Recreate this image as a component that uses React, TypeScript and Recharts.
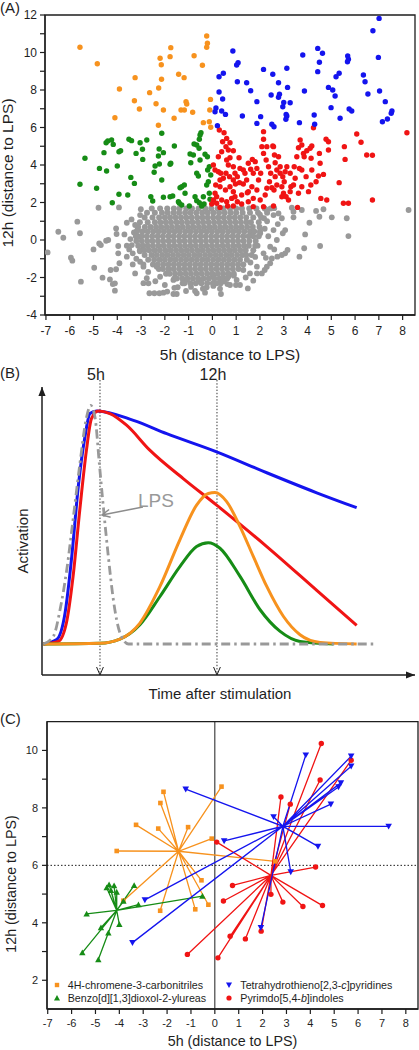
import React from "react";
import {
  Label,
  Line,
  LineChart,
  ReferenceArea,
  ReferenceLine,
  Scatter,
  ScatterChart,
  XAxis,
  YAxis,
} from "recharts";

const FONT = "'Liberation Sans', Arial, Helvetica, sans-serif";
const INK = "#1e1e1e";
const ORANGE = "#f7921e";
const BLUE = "#1414ee";
const RED = "#f01414";
const GREEN = "#168c16";
const GRAY = "#999999";

// ---------- panel A: 5h vs 12h distance to LPS ----------
const aXTicks = [-7, -6, -5, -4, -3, -2, -1, 0, 1, 2, 3, 4, 5, 6, 7, 8];
const aYTicks = [-4, -3, -2, -1, 0, 1, 2, 3, 4, 5, 6, 7, 8, 9, 10, 11, 12];

const orangeA = [
  [-5.57, 10.28], [-4.84, 9.4], [-3.25, 8.66], [-3.91, 8.05], [-4.1, 6.52], [-3.28, 7.43],
  [-3.07, 6.99], [-2.64, 7.86], [-2.37, 7.27], [-2.26, 8.11], [-2.2, 9.69], [-2.15, 9.35],
  [-2.14, 8.57], [-2.06, 6.93], [-2.27, 6.12], [-1.78, 9.78], [-1.75, 10.26], [-1.61, 6.49],
  [-1.42, 8.84], [-1.32, 6.93], [-1.19, 8.66], [-1.11, 7.38], [-1.08, 7.25], [-1.18, 6.93],
  [-0.83, 6.81], [-0.77, 9.83], [-0.42, 9.32], [-0.38, 6.26], [-0.24, 10.88], [-0.21, 10.49],
  [-0.24, 10.28], [-0.08, 7.5], [-0.11, 6.93], [-0.13, 6.31], [-0.07, 6.01],
];

const blueA = [
  [0.86, 10.08], [1.02, 9.33], [1.08, 9.46], [1.05, 8.44], [1.44, 8.39], [1.61, 7.96],
  [0.28, 8.71], [0.46, 8.89], [0.28, 7.89], [0.43, 7.52], [0.15, 7.04], [0.11, 6.84],
  [0.39, 6.88], [0.55, 6.7], [0.21, 6.1], [1.26, 6.61], [2.15, 9.1], [1.87, 7.38],
  [2.03, 6.58], [1.87, 6.22], [2.54, 8.84], [2.78, 8.39], [2.82, 7.77], [2.47, 7.73],
  [2.78, 7.61], [2.5, 6.17], [2.59, 6.04], [3.13, 9.16], [3.16, 8.14], [3.0, 7.34],
  [2.96, 7.11], [3.27, 7.32], [3.1, 6.7], [3.13, 6.61], [3.09, 6.44], [3.8, 9.87],
  [3.87, 7.95], [3.66, 6.26], [4.28, 6.67], [4.3, 6.17], [4.43, 10.22], [4.43, 8.98],
  [4.5, 9.48], [4.63, 9.96], [4.88, 8.14], [5.06, 8.0], [4.99, 7.06], [5.16, 7.68],
  [5.2, 8.71], [5.33, 8.89], [5.37, 6.49], [5.69, 9.81], [5.72, 9.64], [5.68, 9.51],
  [5.75, 6.99], [5.86, 6.88], [6.35, 8.8], [6.42, 8.44], [6.54, 7.79], [6.75, 11.16],
  [7.01, 11.82], [6.98, 9.74], [7.03, 7.95], [7.15, 6.31], [7.27, 7.38], [7.36, 6.45],
  [7.52, 6.76], [7.55, 6.88],
];

const greenA = [
  [-5.57, 2.97], [-5.36, 4.36], [-4.87, 2.76], [-4.75, 3.82], [-4.56, 4.66], [-4.47, 5.19],
  [-4.4, 5.28], [-4.45, 3.68], [-4.24, 5.33], [-4.21, 1.99], [-4.17, 5.1], [-4.0, 3.95],
  [-3.93, 4.71], [-3.86, 4.76], [-3.93, 2.44], [-3.56, 2.4], [-3.51, 5.37], [-3.4, 5.3],
  [-3.43, 3.34], [-3.28, 3.02], [-3.21, 4.62], [-3.04, 5.19], [-2.94, 4.84], [-2.93, 4.3],
  [-2.76, 5.33], [-2.59, 2.31], [-2.51, 2.08], [-2.45, 3.61], [-2.41, 3.95], [-2.27, 4.48],
  [-2.24, 4.85], [-2.23, 4.05], [-2.13, 3.2], [-2.06, 4.66], [-2.13, 5.69], [-2.06, 2.28],
  [-1.78, 2.31], [-1.78, 4.04], [-1.75, 4.09], [-1.6, 5.01], [-1.67, 2.35], [-1.43, 2.04],
  [-1.36, 2.79], [-1.29, 2.84], [-1.18, 2.93], [-1.39, 1.96], [-1.29, 1.87], [-1.15, 2.49],
  [-0.97, 1.81], [-0.91, 4.12], [-0.94, 4.59], [-0.8, 4.53], [-0.77, 5.12], [-0.66, 5.07],
  [-0.55, 5.37], [-0.52, 5.6], [-0.48, 5.72], [-0.56, 4.89], [-0.52, 4.27], [-0.66, 3.56],
  [-0.59, 3.41], [-0.73, 2.31], [-0.66, 2.1], [-0.55, 1.99], [-0.38, 2.31], [-0.35, 1.92],
  [-0.45, 1.81], [-0.31, 4.57], [-0.21, 4.44], [-0.24, 2.93], [-0.17, 3.11], [-0.13, 2.49],
  [-0.1, 2.17], [-0.2, 3.73], [-0.13, 3.91], [-0.07, 3.47],
];

const redA = [
  [0.29, 5.87], [0.49, 5.72], [0.6, 5.42], [0.43, 5.24], [0.74, 5.19], [0.57, 4.98],
  [0.67, 4.8], [0.74, 4.39], [1.12, 4.39], [0.6, 4.27], [0.67, 4.0], [0.04, 4.0],
  [0.11, 3.73], [0.25, 3.64], [0.35, 3.56], [0.46, 3.29], [0.57, 3.56], [0.72, 3.38],
  [0.88, 3.2], [0.97, 2.99], [1.14, 3.06], [1.3, 2.99], [1.37, 3.56], [1.16, 3.82],
  [1.51, 4.09], [1.68, 4.3], [1.8, 4.18], [1.61, 3.77], [1.87, 3.82], [1.72, 3.56],
  [1.94, 3.2], [1.66, 2.84], [1.47, 2.52], [1.23, 2.4], [0.88, 2.58], [0.74, 2.84],
  [0.55, 2.67], [0.32, 2.84], [0.11, 2.49], [0.04, 2.13], [0.18, 1.96], [0.39, 2.13],
  [0.6, 2.04], [0.81, 2.22], [1.05, 2.04], [1.23, 1.92], [1.51, 2.04], [1.72, 2.22],
  [2.01, 2.13], [2.15, 1.78], [2.22, 2.4], [2.29, 2.76], [2.4, 3.11], [2.5, 2.79],
  [2.59, 2.67], [2.71, 2.93], [2.64, 3.38], [2.45, 3.56], [2.36, 3.91], [2.26, 4.27],
  [2.15, 4.62], [2.08, 4.98], [2.15, 5.37], [2.15, 5.78], [2.54, 5.01], [2.57, 4.98],
  [2.61, 4.53], [2.64, 4.12], [2.71, 3.73], [2.85, 3.56], [2.96, 3.38], [3.06, 3.64],
  [3.02, 3.11], [2.92, 2.84], [2.99, 2.49], [2.92, 2.31], [3.1, 2.31], [3.2, 2.13],
  [3.27, 2.58], [3.3, 2.84], [3.48, 3.29], [3.44, 3.91], [3.55, 4.44], [3.62, 4.92],
  [3.76, 5.07], [3.69, 5.33], [3.66, 3.82], [3.76, 3.73], [3.86, 4.44], [3.83, 4.62],
  [3.97, 4.76], [3.94, 3.38], [3.76, 2.84], [3.62, 2.49], [3.58, 1.74], [4.04, 2.58],
  [4.14, 2.93], [4.18, 3.73], [4.15, 4.36], [4.11, 4.89], [4.18, 5.01], [4.25, 5.99],
  [4.36, 3.11], [4.46, 3.41], [4.5, 4.62], [4.53, 4.09], [4.56, 2.22], [4.67, 3.5],
  [4.78, 5.37], [4.88, 5.24], [4.88, 4.8], [4.81, 2.13], [5.33, 3.06], [5.51, 1.96],
  [5.72, 1.96], [5.55, 4.98], [5.58, 4.3], [6.07, 5.65], [6.25, 5.21], [6.49, 4.53],
  [6.73, 4.52], [6.73, 2.13], [8.18, 5.72], [-0.03, 1.92], [0.88, 1.81], [1.72, 1.78],
  [2.57, 1.81], [1.3, 3.73], [0.88, 3.91], [0.95, 3.56], [1.05, 3.38], [0.32, 3.2],
  [0.14, 2.93], [1.44, 3.2], [1.87, 2.67], [2.03, 3.56], [2.29, 4.98], [2.78, 4.44],
  [3.27, 3.56], [3.41, 2.93], [3.13, 3.91], [2.85, 3.91], [0.39, 4.71], [0.88, 4.76],
  [0.25, 4.44], [1.51, 2.58], [0.95, 2.31], [0.64, 1.81], [0.32, 1.74], [0.18, 2.31],
];

// sparse grey points around the central cloud
const grayOutA = [
  [-6.93, -0.66], [-6.48, 0.44], [-6.27, 0.12], [-5.95, -0.94], [-5.89, -1.1], [-5.68, 0.98],
  [-5.57, 0.36], [-5.53, -2.22], [-5.0, -0.5], [-4.97, -1.48], [-4.79, 1.72], [-4.76, -0.18],
  [-4.69, -0.27], [-4.62, -2.01], [-4.47, -0.04], [-4.38, 0.0], [-4.31, -2.1], [-4.28, -1.6],
  [-4.19, -2.35], [-4.1, -2.7], [-4.1, -2.31], [-4.05, 0.62], [-4.03, 0.32], [-3.93, 1.74],
  [-3.96, -0.71], [-3.96, -0.32], [-4.05, -1.56], [-3.91, -1.24], [-3.6, 0.92], [-3.6, -0.3],
  [-3.6, -0.89], [-3.39, -0.27], [-3.35, -0.71], [-3.25, -1.78], [-3.16, 0.53], [-3.07, 0.18],
  [-3.04, 1.33], [-3.25, 0.8], [-3.01, 1.64], [-3.04, -1.16], [-2.9, -1.42], [-2.76, -2.04],
  [-2.69, -2.31], [-2.65, -2.84], [-2.44, -2.84], [-2.23, -2.84], [-2.06, -2.81], [-1.64, -2.88],
  [-1.5, -2.88], [-1.46, -2.52], [-1.11, -2.72], [-0.73, -2.72], [-0.66, -2.84], [-0.31, -2.81],
  [-0.24, -2.52], [0.04, -2.45], [0.32, -2.6], [0.36, -2.88], [0.63, -2.35], [0.74, -2.4],
  [0.99, -2.4], [1.16, -2.4], [1.49, -2.58], [1.72, -2.17], [1.87, -1.78], [2.08, -1.78],
  [2.29, -1.42], [2.43, -1.24], [2.5, -0.98], [2.73, -0.89], [2.92, -0.8], [3.06, -0.71],
  [3.16, -0.53], [2.96, 0.36], [3.06, 0.53], [2.92, 1.16], [2.78, 1.42], [2.57, 1.33],
  [2.29, 1.6], [2.17, 1.16], [2.57, 0.53], [2.71, 0.0], [2.43, -0.36], [3.41, 1.21],
  [3.66, -0.89], [3.76, 1.6], [3.9, 0.3], [3.86, -0.44], [4.08, 0.92], [4.36, 1.55],
  [4.5, 1.24], [4.53, -0.32], [4.67, 1.64], [5.02, 1.21], [5.65, 1.16], [5.72, 0.21],
  [8.25, 1.6], [3.41, 1.51], [3.34, 1.72], [2.01, 0.36], [2.15, -0.71], [1.87, -1.42],
  [1.58, -1.78], [1.02, -2.13], [0.67, -1.96], [0.04, -1.96], [-0.52, -2.22], [-1.08, -2.13],
  [-1.64, -2.13], [-2.2, -1.96], [-2.34, -1.42], [-3.3, 0.4], [-3.05, -0.6], [-3.2, -1.0],
  [-2.9, -1.3], [-2.7, -1.7], [-2.4, -2.2], [-2.0, -2.4], [-1.6, -2.55], [-0.9, -2.5],
  [-0.4, -2.6], [0.5, -2.2], [0.9, -1.9], [1.3, -1.6], [1.6, -1.2], [1.8, -0.9],
  [1.9, -0.3], [2.2, 0.6], [2.3, 1.0], [2.0, 1.35], [2.6, 1.7], [-3.4, 1.1],
  [-3.5, -0.5], [-3.7, 0.3], [2.6, -0.5], [2.2, -1.6], [1.4, -2.0], [-1.9, -2.75],
  [-2.9, -2.3], [-3.45, 0.05], [-3.35, -1.3], [2.35, 0.2], [2.25, -0.95], [2.75, 0.85],
];

// dense grey core, read row by row: [y, x values]
const grayCoreRows: [number, number[]][] = [
  [1.68, [-2.55, -2.2, -1.9, -1.62, -1.38, -1.1, -0.86, -0.58, -0.3, -0.05, 0.22, 0.47, 0.74, 1.0, 1.24, 1.55, 1.85, 2.2, 2.45]],
  [1.45, [-2.75, -2.42, -2.12, -1.88, -1.63, -1.4, -1.15, -0.92, -0.68, -0.43, -0.2, 0.04, 0.28, 0.52, 0.77, 1.0, 1.27, 1.58, 1.92, 2.3]],
  [1.2, [-2.85, -2.52, -2.24, -2.0, -1.78, -1.55, -1.32, -1.1, -0.87, -0.64, -0.42, -0.2, 0.03, 0.25, 0.48, 0.71, 0.94, 1.17, 1.42, 1.72, 2.05]],
  [0.95, [-3.05, -2.72, -2.42, -2.19, -1.96, -1.74, -1.51, -1.29, -1.06, -0.84, -0.61, -0.39, -0.16, 0.07, 0.29, 0.52, 0.74, 0.97, 1.2, 1.43, 1.62, 1.95]],
  [0.7, [-3.12, -2.84, -2.6, -2.37, -2.15, -1.92, -1.7, -1.47, -1.25, -1.02, -0.8, -0.57, -0.35, -0.12, 0.1, 0.33, 0.55, 0.78, 1.0, 1.23, 1.46, 1.7, 1.98]],
  [0.45, [-3.18, -2.95, -2.72, -2.49, -2.27, -2.04, -1.82, -1.59, -1.37, -1.14, -0.92, -0.69, -0.47, -0.24, -0.02, 0.21, 0.43, 0.66, 0.88, 1.11, 1.34, 1.58, 1.76, 2.0]],
  [0.2, [-3.22, -2.98, -2.76, -2.53, -2.3, -2.08, -1.85, -1.63, -1.4, -1.18, -0.95, -0.73, -0.5, -0.28, -0.05, 0.17, 0.4, 0.62, 0.85, 1.07, 1.3, 1.52, 1.72, 1.95]],
  [-0.05, [-3.2, -2.97, -2.74, -2.52, -2.29, -2.07, -1.84, -1.62, -1.39, -1.17, -0.94, -0.72, -0.49, -0.27, -0.04, 0.18, 0.41, 0.63, 0.86, 1.08, 1.31, 1.55, 1.82]],
  [-0.3, [-3.12, -2.92, -2.72, -2.5, -2.27, -2.05, -1.82, -1.6, -1.37, -1.15, -0.92, -0.7, -0.47, -0.25, -0.02, 0.2, 0.43, 0.65, 0.88, 1.1, 1.33, 1.53, 1.8]],
  [-0.55, [-3.05, -2.86, -2.66, -2.43, -2.21, -1.98, -1.76, -1.53, -1.31, -1.08, -0.86, -0.63, -0.41, -0.18, 0.04, 0.27, 0.49, 0.72, 0.94, 1.17, 1.4, 1.72]],
  [-0.8, [-2.85, -2.56, -2.34, -2.11, -1.89, -1.66, -1.44, -1.21, -0.99, -0.76, -0.54, -0.31, -0.09, 0.14, 0.36, 0.59, 0.81, 1.04, 1.27, 1.42, 1.65]],
  [-1.05, [-2.7, -2.45, -2.22, -2.0, -1.77, -1.55, -1.32, -1.1, -0.87, -0.65, -0.42, -0.2, 0.03, 0.25, 0.48, 0.7, 0.93, 1.16, 1.45]],
  [-1.3, [-2.5, -2.3, -2.07, -1.85, -1.62, -1.4, -1.17, -0.95, -0.72, -0.5, -0.27, -0.05, 0.18, 0.4, 0.63, 0.85, 1.08, 1.3]],
  [-1.55, [-2.25, -2.08, -1.85, -1.63, -1.4, -1.18, -0.95, -0.73, -0.5, -0.28, -0.05, 0.17, 0.4, 0.62, 0.86, 1.1]],
  [-1.8, [-1.95, -1.8, -1.57, -1.35, -1.12, -0.9, -0.67, -0.45, -0.22, 0.0, 0.23, 0.45, 0.68, 0.9]],
  [-2.05, [-1.6, -1.5, -1.27, -1.05, -0.82, -0.6, -0.37, -0.15, 0.08, 0.3, 0.47, 0.62]],
  [-2.3, [-1.25, -1.18, -0.93, -0.7, -0.46, -0.22, 0.02, 0.18, 0.35]],
];

// ---------- panel B: schematic activation curves ([time, activation]) ----------
const lpsCurve = [
  [1.61, 0], [2.21, 0.033], [2.61, 0.147], [3.01, 0.318], [3.41, 0.546], [3.8, 0.775],
  [4.16, 0.96], [4.44, 1.024], [4.7, 0.974], [4.96, 0.775], [5.2, 0.589], [5.5, 0.375],
  [5.8, 0.19], [6.2, 0.047], [6.7, 0], [21.46, 0],
];
const blueCurve = [
  [1.61, 0], [2.41, 0.019], [2.91, 0.133], [3.31, 0.375], [3.7, 0.675], [4.1, 0.889],
  [4.4, 0.989], [4.8, 1.0], [7.0, 0.96], [8.99, 0.903], [11.98, 0.825], [14.98, 0.735],
  [17.97, 0.649], [20.36, 0.585],
];
const redCurve = [
  [1.61, 0], [2.51, 0.011], [2.99, 0.09], [3.39, 0.29], [3.79, 0.575], [4.19, 0.832],
  [4.49, 0.967], [4.89, 1.0], [5.59, 0.989], [6.59, 0.939], [7.98, 0.832], [9.98, 0.71],
  [11.98, 0.596], [14.98, 0.418], [17.97, 0.23], [20.36, 0.08],
];
const orangeCurve = [
  [1.61, 0], [4.99, 0.003], [6.19, 0.021], [7.39, 0.09], [8.59, 0.247], [9.78, 0.447],
  [10.78, 0.596], [11.48, 0.646], [11.88, 0.65], [12.58, 0.611], [13.38, 0.504], [14.18, 0.375],
  [14.98, 0.247], [15.98, 0.118], [16.97, 0.04], [18.17, 0.007], [20.36, 0],
];
const greenCurve = [
  [1.61, 0], [4.99, 0.003], [6.19, 0.021], [7.39, 0.083], [8.59, 0.204], [9.78, 0.332],
  [10.78, 0.418], [11.48, 0.435], [12.18, 0.411], [13.38, 0.29], [14.58, 0.147], [15.78, 0.054],
  [16.97, 0.011], [18.97, 0],
];
const bMarks = [
  { t: 5, label: "5h" },
  { t: 12, label: "12h" },
];
const lpsArrow = [[7.57, 0.588], [5.12, 0.554]];

// ---------- panel C: compound classes, centre -> member ----------
const cXTicks = aXTicks;
const cYTicks = [2, 3, 4, 5, 6, 7, 8, 9, 10];

const chromeneCentre = [-1.52, 6.49];
const chromene = [
  [0.28, 8.74], [-2.15, 8.56], [-2.28, 8.17], [-3.3, 7.41], [-2.37, 7.28], [-1.12, 7.33],
  [-0.13, 6.93], [-4.11, 6.5], [2.53, 6.14], [-0.56, 5.48], [-3.83, 4.77], [-2.29, 4.42],
  [-0.82, 4.47], [-0.27, 4.63],
];
const ureaCentre = [-4.11, 4.43];
const urea = [
  [-4.53, 5.22], [-4.43, 5.33], [-4.22, 5.29], [-4.35, 5.13], [-4.11, 5.07], [-3.38, 5.3],
  [-3.83, 4.75], [-3.2, 4.63], [-0.52, 4.93], [-5.37, 4.31], [-4.77, 3.83], [-4.46, 3.65],
  [-4.0, 3.94], [-5.55, 2.96], [-4.88, 2.72],
];
const thienoCentre = [2.85, 7.36];
const thieno = [
  [3.81, 9.84], [5.71, 9.8], [5.71, 9.45], [5.28, 8.87], [5.18, 8.73], [4.86, 8.13],
  [2.46, 7.69], [7.28, 7.36], [4.32, 6.66], [0.39, 6.85], [-1.22, 8.65], [3.18, 5.77],
  [1.93, 3.83], [-2.93, 4.8], [-3.45, 3.31],
];
const indoleCentre = [2.35, 5.65];
const indole = [
  [4.46, 10.24], [5.71, 9.66], [4.41, 8.97], [2.77, 8.38], [3.16, 8.13], [0.08, 6.81],
  [4.22, 5.94], [0.74, 5.3], [0.36, 4.76], [2.35, 4.99], [2.85, 4.72], [3.69, 4.57],
  [4.51, 4.6], [0.64, 3.53], [1.28, 3.44], [1.94, 3.71], [-1.15, 2.9], [0.13, 2.78],
];
const cNames = [
  "4H-chromene-3-carbonitriles",
  "Benzo[d][1,3]dioxol-2-ylureas",
  "Tetrahydrothieno[2,3-c]pyridines",
  "Pyrimdo[5,4-b]indoles",
];

type P = { x: number; y: number };
const pts = (a: number[][]): P[] => a.map(([x, y]) => ({ x, y }));
const grayCore: P[] = grayCoreRows.flatMap(([y, xs]) => xs.map((x) => ({ x, y })));
const curve = (a: number[][]) => a.map(([t, v]) => ({ t, v }));
const star = (c: number[], a: number[][]): P[] =>
  a.flatMap(([x, y]) => [{ x: c[0], y: c[1] }, { x, y }]);

const dot = (fill: string, r = 2.7) => (p: any) => <circle cx={p.cx} cy={p.cy} r={r} fill={fill} />;
const square = (fill: string, s = 4.6) => (p: any) => (
  <rect x={p.cx - s / 2} y={p.cy - s / 2} width={s} height={s} fill={fill} />
);
const triUp = (fill: string, h = 3.2) => (p: any) => (
  <polygon points={`${p.cx},${p.cy - h} ${p.cx + h},${p.cy + h * 0.8} ${p.cx - h},${p.cy + h * 0.8}`} fill={fill} />
);
const triDown = (fill: string, h = 3.3) => (p: any) => (
  <polygon points={`${p.cx - h},${p.cy - h * 0.8} ${p.cx + h},${p.cy - h * 0.8} ${p.cx},${p.cy + h}`} fill={fill} />
);
const none = () => <g />;

const tickStyle = (size: number) => ({ fontSize: size, fill: INK, fontFamily: FONT });
const evenOnly = (v: number) => (v % 2 === 0 ? String(v) : "");

function head(x1: number, y1: number, x2: number, y2: number, len: number, half: number) {
  const a = Math.atan2(y2 - y1, x2 - x1);
  const bx = x2 - len * Math.cos(a);
  const by = y2 - len * Math.sin(a);
  const nx = -Math.sin(a) * half;
  const ny = Math.cos(a) * half;
  return `${bx + nx},${by + ny} ${x2},${y2} ${bx - nx},${by - ny}`;
}

const axisArrow = (p: any) => (
  <g>
    <line x1={p.x1} y1={p.y1} x2={p.x2} y2={p.y2} stroke={INK} strokeWidth={1.5} />
    <polygon points={head(p.x1, p.y1, p.x2, p.y2, 9, 3.6)} fill={INK} />
  </g>
);

const dropLine = (label: string) => (p: any) => (
  <g>
    <line x1={p.x1} y1={p.y1} x2={p.x2} y2={p.y2} stroke={INK} strokeWidth={0.9} strokeDasharray="1.4 1.8" />
    <polyline points={head(p.x1, p.y1, p.x2, p.y2, 8, 3.4)} fill="none" stroke={INK} strokeWidth={1} />
    <text x={p.x1 - 4} y={p.y1 - 0.5} textAnchor="middle" fontSize={16} fontFamily={FONT} fill={INK}>
      {label}
    </text>
  </g>
);

const lpsPointer = (p: any) => (
  <g>
    <line x1={p.x1} y1={p.y1} x2={p.x2} y2={p.y2} stroke="#8c8c8c" strokeWidth={1.5} />
    <polyline points={head(p.x1, p.y1, p.x2, p.y2, 8, 4)} fill="none" stroke="#8c8c8c" strokeWidth={1.5} />
    <text x={p.x1 - 5} y={p.y1} fontSize={19} fontFamily={FONT} fill={GRAY}>
      LPS
    </text>
  </g>
);

function PanelA() {
  const X0 = -7.04, X1 = 8.52;
  return (
    <ScatterChart width={419} height={365} margin={{ top: 15, right: 4, bottom: 0, left: 0 }}>
      <XAxis
        type="number"
        dataKey="x"
        domain={[X0, X1]}
        ticks={aXTicks}
        interval={0}
        allowDataOverflow
        height={50}
        tickSize={5}
        tickMargin={6}
        tick={tickStyle(12)}
        axisLine={{ stroke: INK, strokeWidth: 1.3 }}
        tickLine={{ stroke: INK, strokeWidth: 1.2 }}
      >
        <Label value="5h (distance to LPS)" position="insideBottom" offset={5} fontSize={15.5} fill={INK} fontFamily={FONT} />
      </XAxis>
      <YAxis
        type="number"
        dataKey="y"
        domain={[-4, 12]}
        ticks={aYTicks}
        interval={0}
        allowDataOverflow
        width={45}
        tickSize={5}
        tickMargin={3}
        tickFormatter={evenOnly}
        tick={tickStyle(12)}
        axisLine={{ stroke: INK, strokeWidth: 1.3 }}
        tickLine={{ stroke: INK, strokeWidth: 1.2 }}
      />
      <ReferenceArea x1={X0} x2={X1} y1={-4} y2={12} fill="none" stroke={INK} strokeWidth={1.3} ifOverflow="visible" />
      <Scatter data={pts(grayOutA)} shape={dot(GRAY, 2.9)} isAnimationActive={false} />
      <Scatter data={grayCore} shape={dot(GRAY, 3)} isAnimationActive={false} />
      <Scatter data={pts(orangeA)} shape={dot(ORANGE)} isAnimationActive={false} />
      <Scatter data={pts(greenA)} shape={dot(GREEN)} isAnimationActive={false} />
      <Scatter data={pts(redA)} shape={dot(RED)} isAnimationActive={false} />
      <Scatter data={pts(blueA)} shape={dot(BLUE)} isAnimationActive={false} />
    </ScatterChart>
  );
}

function PanelB() {
  const T0 = 1.53, T1 = 23.85, V0 = -0.133, V1 = 1.103;
  const curveProps = { type: "monotone" as const, dataKey: "v", dot: false, isAnimationActive: false };
  return (
    <LineChart width={419} height={345} margin={{ top: 27, right: 4, bottom: 30, left: 42 }}>
      <XAxis type="number" dataKey="t" domain={[T0, T1]} hide allowDataOverflow />
      <YAxis type="number" domain={[V0, V1]} hide allowDataOverflow />
      <ReferenceLine segment={[{ x: T0, y: V0 }, { x: T1, y: V0 }]} shape={axisArrow} ifOverflow="visible" />
      <ReferenceLine segment={[{ x: T0, y: V0 }, { x: T0, y: V1 }]} shape={axisArrow} ifOverflow="visible" />
      {bMarks.map((m) => (
        <ReferenceLine
          key={m.label}
          segment={[{ x: m.t, y: 1.133 }, { x: m.t, y: V0 }]}
          shape={dropLine(m.label)}
          ifOverflow="visible"
        />
      ))}
      <Line {...curveProps} data={curve(blueCurve)} stroke={BLUE} strokeWidth={3} />
      <Line {...curveProps} data={curve(redCurve)} stroke={RED} strokeWidth={3} />
      <Line {...curveProps} data={curve(greenCurve)} stroke={GREEN} strokeWidth={3} />
      <Line {...curveProps} data={curve(orangeCurve)} stroke={ORANGE} strokeWidth={3} />
      <Line
        {...curveProps}
        data={curve(lpsCurve)}
        stroke={GRAY}
        strokeWidth={2.8}
        strokeDasharray="9 4 2.5 4"
      />
      <ReferenceLine
        segment={[{ x: lpsArrow[0][0], y: lpsArrow[0][1] }, { x: lpsArrow[1][0], y: lpsArrow[1][1] }]}
        shape={lpsPointer}
        ifOverflow="visible"
      />
    </LineChart>
  );
}

const groupsC = [
  { centre: chromeneCentre, members: chromene, color: ORANGE, mark: square },
  { centre: ureaCentre, members: urea, color: GREEN, mark: triUp },
  { centre: indoleCentre, members: indole, color: RED, mark: dot },
  { centre: thienoCentre, members: thieno, color: BLUE, mark: triDown },
];

function PanelC() {
  const X0 = -7.03, X1 = 8.51;
  return (
    <ScatterChart width={419} height={350} margin={{ top: 21.7, right: 1, bottom: 0, left: 0 }}>
      <XAxis
        type="number"
        dataKey="x"
        domain={[X0, X1]}
        ticks={cXTicks}
        interval={0}
        allowDataOverflow
        height={41}
        tickSize={5}
        tickMargin={5}
        tick={tickStyle(11)}
        axisLine={{ stroke: INK, strokeWidth: 1.3 }}
        tickLine={{ stroke: INK, strokeWidth: 1.2 }}
      >
        <Label value="5h (distance to LPS)" position="insideBottom" offset={4} fontSize={14.3} fill={INK} fontFamily={FONT} />
      </XAxis>
      <YAxis
        type="number"
        dataKey="y"
        domain={[1, 11]}
        ticks={cYTicks}
        interval={0}
        allowDataOverflow
        width={47}
        tickSize={5}
        tickMargin={4}
        tickFormatter={evenOnly}
        tick={tickStyle(11)}
        axisLine={{ stroke: INK, strokeWidth: 1.3 }}
        tickLine={{ stroke: INK, strokeWidth: 1.2 }}
      />
      <ReferenceArea x1={X0} x2={X1} y1={1} y2={11} fill="none" stroke={INK} strokeWidth={1.3} ifOverflow="visible" />
      <ReferenceLine x={0} stroke={INK} strokeWidth={1} />
      <ReferenceLine y={6} stroke={INK} strokeWidth={1} strokeDasharray="1.5 2" />
      {groupsC.map((g, i) => (
        <Scatter
          key={`l${i}`}
          data={star(g.centre, g.members)}
          line={{ stroke: g.color, strokeWidth: 1.3 }}
          shape={none}
          isAnimationActive={false}
        />
      ))}
      {groupsC.map((g, i) => (
        <Scatter key={`m${i}`} data={pts(g.members)} shape={g.mark(g.color)} isAnimationActive={false} />
      ))}
    </ScatterChart>
  );
}

function Name({ text }: { text: string }) {
  const m = text.match(/^(.*-)([a-z])(\].*)$/);
  if (!m) return <>{text}</>;
  return (
    <>
      {m[1]}
      <i>{m[2]}</i>
      {m[3]}
    </>
  );
}

const legendC = [
  { name: cNames[0], color: ORANGE, kind: "square", x: 56.7, y: 985 },
  { name: cNames[1], color: GREEN, kind: "up", x: 56.7, y: 998.3 },
  { name: cNames[2], color: BLUE, kind: "down", x: 229.3, y: 985 },
  { name: cNames[3], color: RED, kind: "circle", x: 229.3, y: 998.3 },
];

function LegendMark({ kind, color }: { kind: string; color: string }) {
  return (
    <svg width={10} height={10} viewBox="-5 -5 10 10" style={{ display: "block" }}>
      {kind === "square" && <rect x={-2.2} y={-2.2} width={4.4} height={4.4} fill={color} />}
      {kind === "up" && <polygon points="0,-3 3,2.4 -3,2.4" fill={color} />}
      {kind === "down" && <polygon points="-3,-2.4 3,-2.4 0,3" fill={color} />}
      {kind === "circle" && <circle r={2.6} fill={color} />}
    </svg>
  );
}

export default function App() {
  return (
    <div style={{ position: "absolute", left: 0, top: 0, width: 419, height: 1050, background: "#fff", fontFamily: FONT }}>
      <div style={{ position: "absolute", left: 0, top: 0 }}>
        <PanelA />
      </div>
      <div style={{ position: "absolute", left: 0, top: 360 }}>
        <PanelB />
      </div>
      <div style={{ position: "absolute", left: 0, top: 700 }}>
        <PanelC />
      </div>
      {legendC.map((l) => (
        <div
          key={l.name}
          style={{
            position: "absolute",
            left: l.x - 5,
            top: l.y - 7,
            height: 14,
            display: "flex",
            alignItems: "center",
            fontSize: 10.7,
            color: INK,
            whiteSpace: "nowrap",
          }}
        >
          <LegendMark kind={l.kind} color={l.color} />
          <span style={{ marginLeft: 6 }}>
            <Name text={l.name} />
          </span>
        </div>
      ))}
      <svg
        width={419}
        height={1050}
        style={{ position: "absolute", left: 0, top: 0, pointerEvents: "none" }}
        fontFamily={FONT}
        fill={INK}
      >
        <text x={0} y={13} fontSize={15}>(A)</text>
        <text x={0} y={378} fontSize={15}>(B)</text>
        <text x={0} y={724} fontSize={15}>(C)</text>
        <text x={12.8} y={173} fontSize={15.5} textAnchor="middle" transform="rotate(-90 12.8 173)">
          12h (distance to LPS)
        </text>
        <text x={28.3} y={541} fontSize={15} textAnchor="middle" transform="rotate(-90 28.3 541)">
          Activation
        </text>
        <text x={220} y={698.5} fontSize={15} textAnchor="middle">
          Time after stimulation
        </text>
        <text x={16.1} y={884} fontSize={14.3} textAnchor="middle" transform="rotate(-90 16.1 884)">
          12h (distance to LPS)
        </text>
      </svg>
    </div>
  );
}
